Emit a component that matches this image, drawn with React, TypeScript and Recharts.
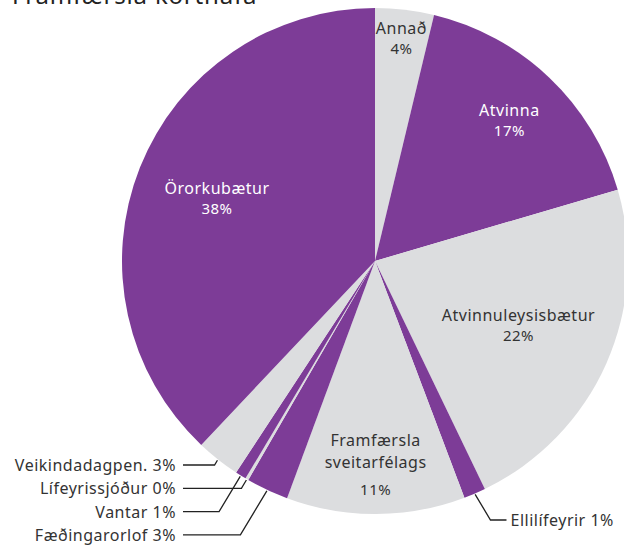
import React from 'react'
import { PieChart, Pie, Cell } from 'recharts'

const categories = ['Annað', 'Atvinna', 'Atvinnuleysisbætur', 'Ellilífeyrir', 'Framfærsla sveitarfélags', 'Fæðingarorlof', 'Lífeyrissjóður', 'Vantar', 'Veikindadagpen.', 'Örorkubætur']
const shares = [3.75, 16.7, 22.4, 1.4, 11.4, 2.7, 0.2, 0.7, 2.8, 37.95]
const title = 'Framfærsla korthafa'

const PURPLE = '#7d3c97'
const GRAY = '#dcdddf'
const FONT = '"Noto Sans", Arial, sans-serif'
const RAD = Math.PI / 180
const LS = 0.5

const data = categories.map((name, i) => ({ name, value: shares[i] }))

// label placement, by slice index
const insideR: Record<number, number> = { 0: 225, 1: 195, 2: 157, 4: 202, 9: 170 }
const leftRows: Record<number, number> = { 8: 0, 6: 1, 7: 2, 5: 3 }

function renderLabel(p: any) {
  const { cx, cy, midAngle, outerRadius, index, value } = p
  const pct = Math.round(value) + '%'
  const name = categories[index]
  const cos = Math.cos(-midAngle * RAD)
  const sin = Math.sin(-midAngle * RAD)
  const fs = 16
  const t = { fontSize: fs, fontFamily: FONT, letterSpacing: LS, dominantBaseline: 'central' as const }

  if (insideR[index] != null) {
    const r = insideR[index]
    const x = cx + r * cos
    const y = cy + r * sin
    const fill = index % 2 === 1 ? '#fff' : '#333'
    if (index === 4) {
      const parts = name.split(' ')
      return (
        <g key={'l' + index}>
          <text x={x} y={y - 23} fill={fill} textAnchor="middle" {...t}>{parts[0]}</text>
          <text x={x} y={y - 1} fill={fill} textAnchor="middle" {...t}>{parts[1]}</text>
          <text x={x} y={y + 26} fill={fill} textAnchor="middle" {...t} fontSize={fs - 1}>{pct}</text>
        </g>
      )
    }
    return (
      <g key={'l' + index}>
        <text x={x} y={y - 10} fill={fill} textAnchor="middle" {...t}>{name}</text>
        <text x={x} y={y + 10} fill={fill} textAnchor="middle" {...t} fontSize={fs - 1}>{pct}</text>
      </g>
    )
  }

  const ex = cx + (outerRadius + 1) * cos
  const ey = cy + (outerRadius + 1) * sin

  if (leftRows[index] != null) {
    const ly = 465 + leftRows[index] * 23.3
    const bx = ex - (ly - ey) * 0.6
    return (
      <g key={'l' + index}>
        <polyline points={`${ex},${ey} ${bx},${ly} 183,${ly}`} fill="none" stroke="#222" strokeWidth={1.3} />
        <text x={176} y={ly} fill="#333" textAnchor="end" {...t}>{name} {pct}</text>
      </g>
    )
  }

  // Ellilífeyrir, right side
  const ly = 520
  const bx = ex + (ly - ey) * 0.6
  return (
    <g key={'l' + index}>
      <polyline points={`${ex},${ey} ${bx},${ly} ${bx + 16},${ly}`} fill="none" stroke="#222" strokeWidth={1.3} />
      <text x={bx + 20} y={ly} fill="#333" textAnchor="start" {...t}>{name} {pct}</text>
    </g>
  )
}

export default function App() {
  return (
    <div style={{ position: 'fixed', top: 0, left: 0, width: 624, height: 545, overflow: 'hidden', background: '#fff' }}>
      <div style={{ position: 'absolute', top: -17, left: 12, fontSize: 24, letterSpacing: 0.8, lineHeight: '24px', fontFamily: FONT, color: '#222', whiteSpace: 'nowrap' }}>{title}</div>
      <PieChart width={624} height={545} margin={{ top: 0, right: 0, bottom: 0, left: 0 }}>
        <Pie
          data={data}
          dataKey="value"
          nameKey="name"
          cx={375}
          cy={261}
          outerRadius={253}
          startAngle={90}
          endAngle={-270}
          stroke="none"
          label={renderLabel}
          labelLine={false}
          isAnimationActive={false}
        >
          {data.map((d, i) => (
            <Cell key={d.name} fill={i % 2 === 0 ? GRAY : PURPLE} />
          ))}
        </Pie>
      </PieChart>
    </div>
  )
}
